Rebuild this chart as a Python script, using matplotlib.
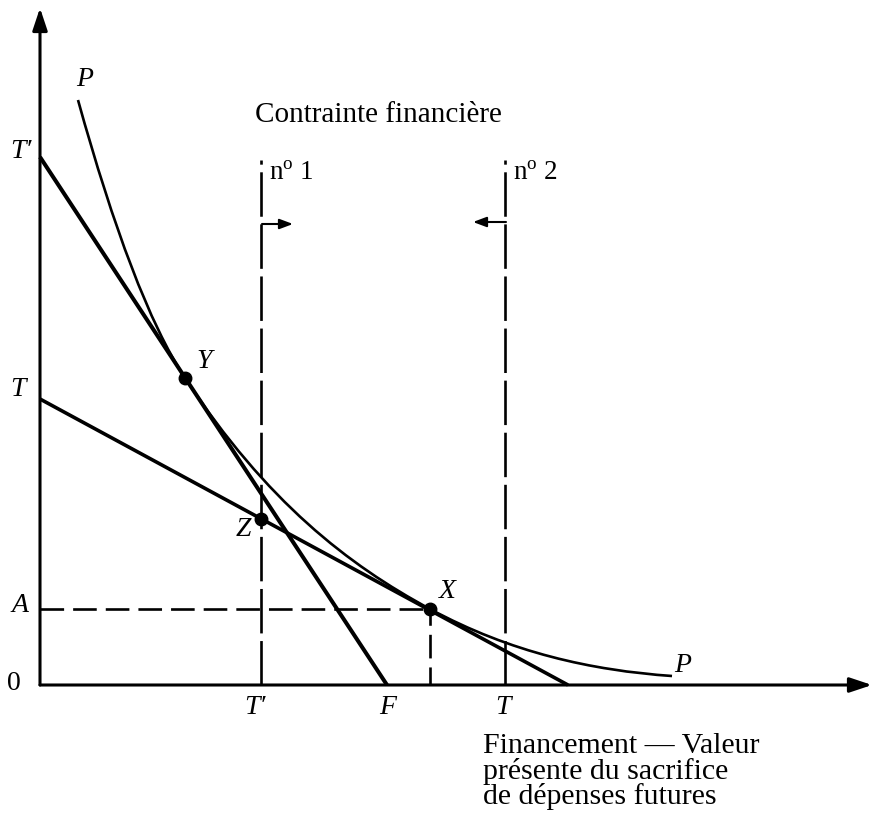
import matplotlib
matplotlib.use('Agg')
import matplotlib.pyplot as plt
from matplotlib.path import Path
from matplotlib.patches import PathPatch

plt.rcParams['lines.scale_dashes'] = False
SERIF = ['Liberation Serif', 'DejaVu Serif']
plt.rcParams['font.family'] = SERIF
plt.rcParams['mathtext.fontset'] = 'custom'
plt.rcParams['mathtext.rm'] = 'Liberation Serif'

# ---- data (economic coordinates, origin at axes corner) ----
axis_x_max = 832
axis_y_max = 677

# budget lines: (y intercept, x intercept)
line_Tprime = (528, 347)   # T' -> F
line_T = (286, 528)        # T -> x axis

constraint_x = [221, 465]      # n° 1 (T'), n° 2 (T)
constraint_top = 525
constraint_arrow_y = [461, 463]
constraint_arrow_dx = [32, -32]

point_names = ['Y', 'Z', 'X']
point_x = [145, 221, 390]
point_y = [307, 166, 76]

# indifference curve P: knots with their slopes
P_x = [38, 145, 390, 632]
P_y = [585, 307, 76, 9]
P_slope = [-3.6, -1.52, -0.54, -0.07]

y_tick_labels = ["T\u2032", "T", "A", "0"]
x_tick_labels = ["T\u2032", "F", "T"]
title_text = "Contrainte financi\u00e8re"
constraint_labels = [r"n$^{\mathrm{o}}$ 1", r"n$^{\mathrm{o}}$ 2"]
xlabel_lines = ["Financement \u2014 Valeur", "pr\u00e9sente du sacrifice",
                "de d\u00e9penses futures"]

# ---- figure ----
fig = plt.figure(figsize=(8.76, 8.26), dpi=100)
ax = fig.add_axes([0, 0, 1, 1])
OX, OY = 40, 685
ax.set_xlim(-OX, 876 - OX)
ax.set_ylim(OY - 826, OY)
ax.axis('off')


def P(px, py):
    return (px - OX, OY - py)


# axes with arrows
arrow_kw = dict(arrowstyle='-|>,head_length=0.9,head_width=0.3', lw=2.2,
                color='black', mutation_scale=15, shrinkA=0, shrinkB=0)
ax.annotate('', xy=(0, axis_y_max), xytext=(0, 0), arrowprops=arrow_kw)
ax.annotate('', xy=(axis_x_max, 0), xytext=(0, 0), arrowprops=arrow_kw)

# budget lines
ax.plot([0, line_Tprime[1]], [line_Tprime[0], 0], color='black', lw=2.9,
        solid_capstyle='butt')
ax.plot([0, line_T[1]], [line_T[0], 0], color='black', lw=2.6,
        solid_capstyle='butt')

# curve P (cubic Hermite segments drawn as Bezier path)
verts = [(P_x[0], P_y[0])]
codes = [Path.MOVETO]
for i in range(len(P_x) - 1):
    x0, y0, m0 = P_x[i], P_y[i], P_slope[i]
    x1, y1, m1 = P_x[i + 1], P_y[i + 1], P_slope[i + 1]
    h = x1 - x0
    verts += [(x0 + h / 3, y0 + m0 * h / 3), (x1 - h / 3, y1 - m1 * h / 3),
              (x1, y1)]
    codes += [Path.CURVE4] * 3
ax.add_patch(PathPatch(Path(verts, codes), fill=False, lw=1.9,
                       edgecolor='black'))

# constraints (dashed verticals)
for cx, ay, dx in zip(constraint_x, constraint_arrow_y, constraint_arrow_dx):
    ax.plot([cx, cx], [0, constraint_top], color='black', lw=1.9,
            linestyle=(0, (32, 5.5)))
    ax.annotate('', xy=(cx + dx, ay), xytext=(cx + 1, ay),
                arrowprops=dict(arrowstyle='-|>,head_length=0.8,head_width=0.3',
                                lw=1.5, color='black', mutation_scale=10,
                                shrinkA=0, shrinkB=0))

# A dashed lines
xX, yX = point_x[2], point_y[2]
ax.plot([0, xX], [yX, yX], color='black', lw=1.9, linestyle=(0, (17, 6.5)))
ax.plot([xX, xX], [0, yX], color='black', lw=1.9, linestyle=(4, (17, 6.5)))

# points
ax.plot(point_x, point_y, 'o', color='black', markersize=9)

ital = dict(fontsize=20, style='italic', ha='center', va='center',
            family=SERIF)

# point labels
label_pos = {'Y': (204, 362), 'Z': (243, 530), 'X': (447, 592)}
for n in point_names:
    ax.text(*P(*label_pos[n]), n, **ital)

# curve labels
ax.text(*P(85, 80), "P", **ital)
ax.text(*P(683, 665), "P", **ital)

# y tick labels
y_pos = [(21, 152), (18, 390), (20, 605)]
for lab, pos in zip(y_tick_labels[:3], y_pos):
    ax.text(*P(*pos), lab, **ital)
ax.text(*P(14, 684), y_tick_labels[3], fontsize=20, ha='center', va='center',
        family=SERIF)

# x-axis tick labels
x_pos = [(255, 708), (388, 708), (503, 708)]
for lab, pos in zip(x_tick_labels, x_pos):
    ax.text(*P(*pos), lab, **ital)

# title text
ax.text(*P(255, 122), title_text, fontsize=21, ha='left', va='baseline')
ax.text(*P(269, 180), constraint_labels[0], fontsize=19.5, ha='left',
        va='baseline')
ax.text(*P(513, 180), constraint_labels[1], fontsize=19.5, ha='left',
        va='baseline')

# x-axis title (one multi-line text)
ax.text(*P(483, 733), "\n".join(xlabel_lines), fontsize=21.5, ha='left',
        va='top', linespacing=0.94)

fig.savefig('out.png', dpi=100)
